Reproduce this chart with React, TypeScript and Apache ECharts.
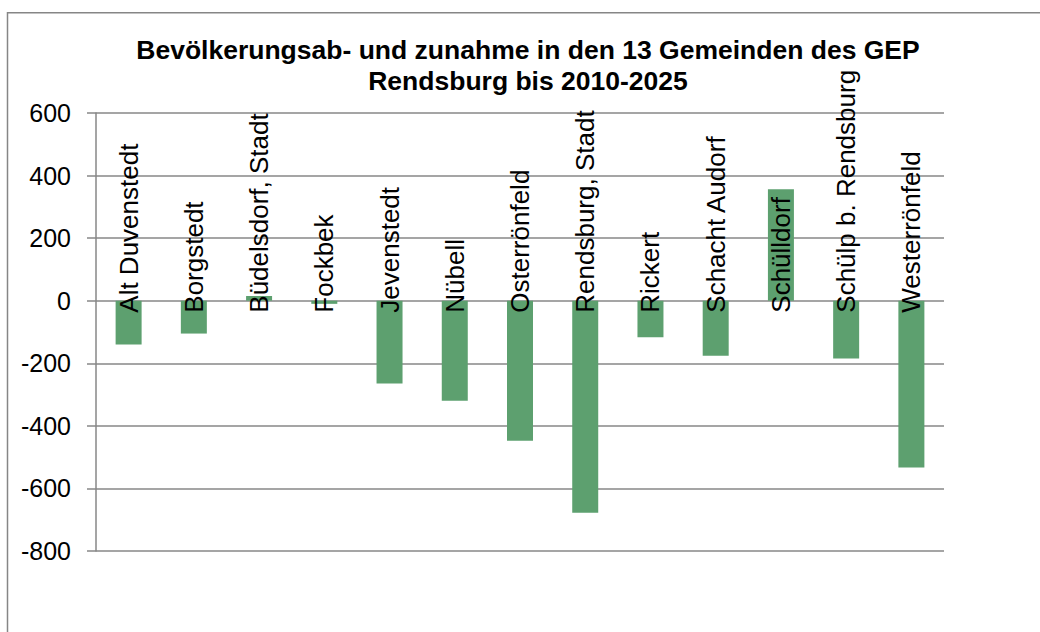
import React, { useEffect, useRef } from "react";
import * as echarts from "echarts";

const titleLines = [
  "Bevölkerungsab- und zunahme in den 13 Gemeinden des GEP",
  "Rendsburg bis 2010-2025",
];

const categories = [
  "Alt Duvenstedt",
  "Borgstedt",
  "Büdelsdorf, Stadt",
  "Fockbek",
  "Jevenstedt",
  "Nübell",
  "Osterrönfeld",
  "Rendsburg, Stadt",
  "Rickert",
  "Schacht Audorf",
  "Schülldorf",
  "Schülp b. Rendsburg",
  "Westerrönfeld",
];

const changeValues = [-140, -105, 15, -10, -265, -320, -448, -678, -117, -176, 356, -185, -533];

const yMin = -800;
const yMax = 600;
const yStep = 200;

const FONT = "'Liberation Sans', Arial, Helvetica, sans-serif";
const GRID_COLOR = "#878787";
const BAR_COLOR = "#5DA06F";

export default function App() {
  const ref = useRef<HTMLDivElement>(null);

  useEffect(() => {
    if (!ref.current) return;
    const chart = echarts.init(ref.current, null, { renderer: "svg" });
    chart.setOption({
      animation: false,
      backgroundColor: "#ffffff",
      textStyle: { fontFamily: FONT },
      title: {
        text: titleLines.join("\n"),
        left: 523,
        top: 29,
        textAlign: "center",
        textStyle: {
          fontFamily: FONT,
          fontWeight: "bold",
          fontSize: 26.5,
          lineHeight: 31,
          color: "#000000",
        },
      },
      graphic: [
        {
          type: "rect",
          z: -10,
          silent: true,
          shape: { x: 7.5, y: 12.7, width: 1200, height: 800 },
          style: { fill: "none", stroke: "#868686", lineWidth: 1.5 },
        },
      ],
      grid: {
        left: 96,
        right: 96,
        top: 113,
        bottom: 81,
        containLabel: false,
        outerBoundsMode: "none",
      },
      xAxis: {
        type: "category",
        data: categories,
        axisLine: { show: false },
        axisTick: { show: false },
        splitLine: { show: false },
        axisLabel: { show: false },
      },
      yAxis: {
        type: "value",
        min: yMin,
        max: yMax,
        interval: yStep,
        axisLine: { show: true, lineStyle: { color: GRID_COLOR, width: 1.5 } },
        axisTick: { show: true, length: 9, lineStyle: { color: GRID_COLOR, width: 1.5 } },
        axisLabel: {
          margin: 25,
          fontSize: 25,
          fontFamily: FONT,
          color: "#000000",
        },
        splitLine: { show: true, lineStyle: { color: GRID_COLOR, width: 1.5 } },
      },
      series: [
        {
          type: "bar",
          data: changeValues,
          barWidth: 26,
          itemStyle: { color: BAR_COLOR },
          z: 2,
        },
        {
          type: "custom",
          data: categories.map((c, i) => [i, 0]),
          z: 5,
          silent: true,
          clip: false,
          renderItem: (params: any, api: any) => {
            const p = api.coord([api.value(0), api.value(1)]);
            return {
              type: "text",
              x: p[0],
              y: p[1] + 12,
              rotation: Math.PI / 2,
              style: {
                text: categories[params.dataIndex],
                fontFamily: FONT,
                fontSize: 26,
                fill: "#000000",
                align: "left",
                verticalAlign: "middle",
              },
            };
          },
        },
      ],
    });
    return () => chart.dispose();
  }, []);

  return (
    <div
      ref={ref}
      style={{ position: "absolute", left: 0, top: 0, width: 1040, height: 632 }}
    />
  );
}
